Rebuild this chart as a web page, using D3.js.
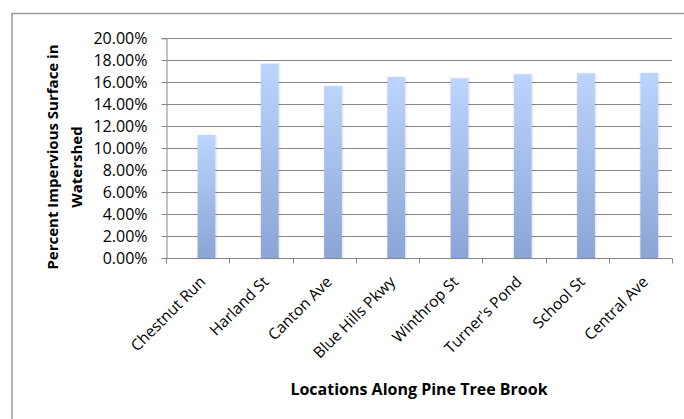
<!DOCTYPE html>
<html>
<head>
<meta charset="utf-8">
<script src="https://cdn.jsdelivr.net/npm/d3@7"></script>
<style>
  html, body { margin: 0; padding: 0; background: #fff; }
  svg { display: block; }
  text { font-family: "Open Sans", "Liberation Sans", sans-serif; fill: #000; }
</style>
</head>
<body>
<div id="chart"></div>
<script>
// ---- data ----
const categories = ["Chestnut Run", "Harland St", "Canton Ave", "Blue Hills Pkwy",
                    "Winthrop St", "Turner's Pond", "School St", "Central Ave"];
const values = [0.1119, 0.1769, 0.1565, 0.1647, 0.1635, 0.1672, 0.1681, 0.1684];
const yTicks = [0, 0.02, 0.04, 0.06, 0.08, 0.10, 0.12, 0.14, 0.16, 0.18, 0.20];
const yTitleLines = ["Percent Impervious Surface in", "Watershed"];
const xTitle = "Locations Along Pine Tree Brook";

// ---- layout ----
const W = 684, H = 419;
const plot = { left: 166, right: 672, top: 38.3, bottom: 258 };

const svg = d3.select("#chart").append("svg").attr("width", W).attr("height", H);

const defs = svg.append("defs");
const grad = defs.append("linearGradient").attr("id", "barGrad")
  .attr("x1", 0).attr("y1", 0).attr("x2", 0).attr("y2", 1);
grad.append("stop").attr("offset", "0%").attr("stop-color", "#bcd5fd");
grad.append("stop").attr("offset", "100%").attr("stop-color", "#8aa5d6");
const filt = defs.append("filter").attr("id", "shadow")
  .attr("x", "-30%").attr("y", "-5%").attr("width", "160%").attr("height", "110%");
filt.append("feDropShadow").attr("dx", 0.5).attr("dy", 0.5).attr("stdDeviation", 1)
  .attr("flood-color", "#000").attr("flood-opacity", 0.18);

// chart area border (extends beyond the visible window)
svg.append("rect").attr("x", 12).attr("y", 13.5).attr("width", 700).attr("height", 440)
  .attr("fill", "none").attr("stroke", "#9a9a9a").attr("stroke-width", 1.5);

const x = d3.scaleBand().domain(categories).range([plot.left, plot.right]).padding(0);
const series = d3.scaleBand().domain(["empty", "value"]).range([0, x.bandwidth()])
  .paddingInner(0).paddingOuter(0.78);
const y = d3.scaleLinear().domain([0, 0.20]).range([plot.bottom, plot.top]);

// gridlines
svg.append("g").selectAll("line").data(yTicks.filter(d => d > 0)).join("line")
  .attr("x1", plot.left).attr("x2", plot.right)
  .attr("y1", d => Math.round(y(d)) + 0.5).attr("y2", d => Math.round(y(d)) + 0.5)
  .attr("stroke", "#878787").attr("stroke-width", 1);

// y axis
const yAxis = d3.axisLeft(y).tickValues(yTicks).tickSize(5).tickPadding(14)
  .tickFormat(d => (d * 100).toFixed(2) + "%");
const gy = svg.append("g").attr("transform", `translate(${plot.left + 0.5},0)`).call(yAxis);
gy.select(".domain").attr("stroke", "#878787");
gy.selectAll(".tick line").attr("stroke", "#878787");
gy.selectAll(".tick").attr("transform", d => `translate(0,${Math.round(y(d)) + 0.5})`);
gy.selectAll("text").attr("font-size", 16).attr("font-family", "'Open Sans', sans-serif")
  .attr("fill", "#000");

// bars
svg.append("g").selectAll("rect").data(categories).join("rect")
  .attr("x", (c) => x(c) + series("value"))
  .attr("width", series.bandwidth())
  .attr("y", (c, i) => y(values[i]))
  .attr("height", (c, i) => y(0) - y(values[i]))
  .attr("fill", "url(#barGrad)")
  .attr("filter", "url(#shadow)");

// x axis
const xAxis = d3.axisBottom(x).tickSize(0).tickFormat("");
const gx = svg.append("g").attr("transform", `translate(0,${plot.bottom + 0.5})`).call(xAxis);
gx.select(".domain").remove();
gx.append("line").attr("x1", plot.left).attr("x2", plot.right)
  .attr("stroke", "#878787");
const edges = categories.map(c => x(c)).concat([plot.right]);
gx.selectAll(".edge").data(edges).join("line").attr("class", "edge")
  .attr("x1", d => Math.round(d) + 0.5).attr("x2", d => Math.round(d) + 0.5)
  .attr("y1", 0).attr("y2", 5).attr("stroke", "#878787");

// rotated category labels
svg.append("g").selectAll("text").data(categories).join("text")
  .attr("transform", c => `translate(${x(c) + x.bandwidth() / 2 + 5},279) rotate(-45)`)
  .attr("text-anchor", "end")
  .attr("dy", "0.35em")
  .attr("font-size", 15.5)
  .text(c => c);

// y title
const ty = svg.append("g");
ty.append("text")
  .attr("transform", "translate(58,157) rotate(-90)")
  .attr("text-anchor", "middle")
  .attr("font-weight", "bold").attr("font-size", 15)
  .text(yTitleLines[0]);
ty.append("text")
  .attr("transform", "translate(82,167) rotate(-90)")
  .attr("text-anchor", "middle")
  .attr("font-weight", "bold").attr("font-size", 15)
  .text(yTitleLines[1]);

// x title
svg.append("text")
  .attr("x", (plot.left + plot.right) / 2).attr("y", 395)
  .attr("text-anchor", "middle")
  .attr("font-weight", "bold").attr("font-size", 16)
  .text(xTitle);
</script>
</body>
</html>
